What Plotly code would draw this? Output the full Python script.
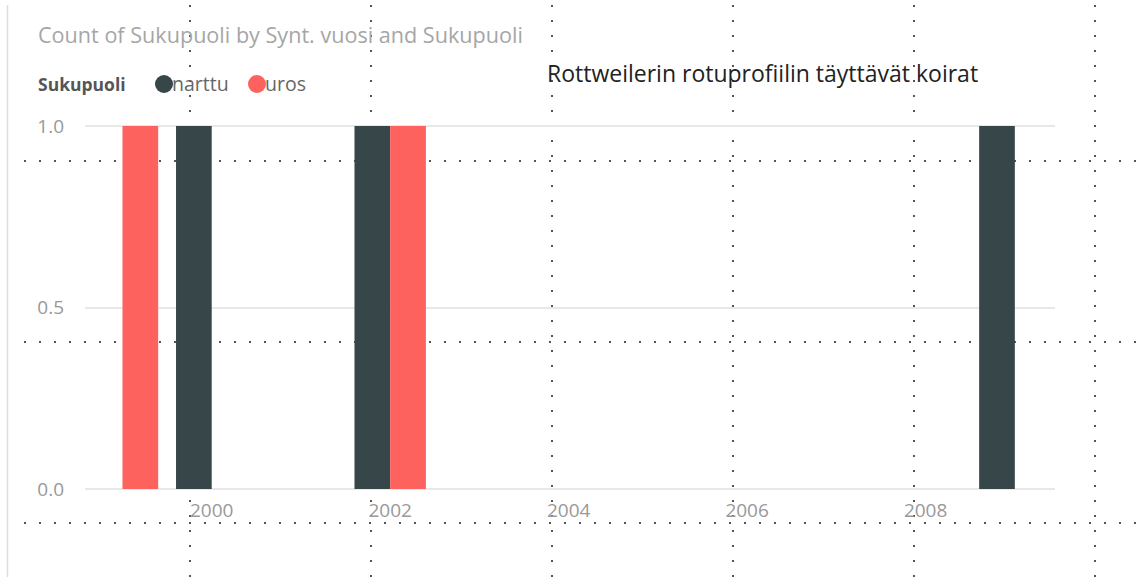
import plotly.graph_objects as go

# Data
years_narttu = [2000, 2002, 2009]
counts_narttu = [1, 1, 1]
years_uros = [1999, 2002]
counts_uros = [1, 1]
x_ticks = [2000, 2002, 2004, 2006, 2008]
y_ticks = [0.0, 0.5, 1.0]

W, H = 1144, 577
L, R, T, B = 85, 89, 125, 87

fig = go.Figure()
fig.add_trace(go.Bar(x=years_narttu, y=counts_narttu, name="narttu",
                     marker=dict(color="#374649", line=dict(width=0))))
fig.add_trace(go.Bar(x=years_uros, y=counts_uros, name="uros",
                     marker=dict(color="#FD625E", line=dict(width=0))))

font_family = "Segoe UI, Open Sans, Noto Sans, sans-serif"

fig.update_layout(
    width=W, height=H,
    margin=dict(l=L, r=R, t=T, b=B),
    paper_bgcolor="white", plot_bgcolor="white",
    barmode="group", bargap=0.2, bargroupgap=0,
    showlegend=False,
    font=dict(family=font_family, color="#999999", size=19),
    xaxis=dict(range=[1998.58, 2009.45], tickvals=x_ticks,
               ticktext=[str(v) for v in x_ticks],
               showgrid=False, zeroline=False, showline=False,
               ticks="", ticklabelstandoff=7,
               tickfont=dict(size=19, color="#999999")),
    yaxis=dict(range=[-0.003, 1.003], tickvals=y_ticks,
               ticktext=["0.0", "0.5", "1.0"],
               showgrid=True, gridcolor="#E8E8E8", gridwidth=1.5,
               zeroline=False, showline=False, ticks="",
               ticklabelstandoff=20,
               tickfont=dict(size=19, color="#999999")),
)

def px_x(p):
    return (p - L) / (W - L - R)

def px_y(p):
    return 1 - (p - T) / (H - T - B)

# Title
fig.add_annotation(text="Count of Sukupuoli by Synt. vuosi and Sukupuoli",
                   xref="paper", yref="paper", xanchor="left", yanchor="middle",
                   x=px_x(36), y=px_y(34), showarrow=False,
                   font=dict(size=21.6, color="#A6A6A6", family=font_family))
# Legend (manual)
ly = px_y(84)
fig.add_annotation(text="<b>Sukupuoli</b>", xref="paper", yref="paper",
                   xanchor="left", yanchor="middle",
                   x=px_x(36), y=ly, showarrow=False,
                   font=dict(size=17.5, color="#555555", family=font_family))
for name, color, cx, tx in [("narttu", "#374649", 164, 170), ("uros", "#FD625E", 257, 263)]:
    fig.add_shape(type="circle", xref="paper", yref="paper",
                  x0=px_x(cx - 9), x1=px_x(cx + 9),
                  y0=px_y(84 + 9), y1=px_y(84 - 9),
                  fillcolor=color, line=dict(width=0))
    fig.add_annotation(text=name, xref="paper", yref="paper", xanchor="left",
                       yanchor="middle", x=px_x(tx), y=ly,
                       showarrow=False,
                       font=dict(size=19.5, color="#666666", family=font_family))

# Overlay caption
fig.add_annotation(text="Rottweilerin rotuprofiilin täyttävät koirat",
                   xref="paper", yref="paper", xanchor="left", yanchor="middle",
                   x=px_x(545), y=px_y(73), showarrow=False,
                   font=dict(size=23, color="#222222", family=font_family))

# Left border of the visual
fig.add_shape(type="line", xref="paper", yref="paper",
              x0=px_x(7.5), x1=px_x(7.5), y0=px_y(H), y1=px_y(5),
              line=dict(color="#DDDDDD", width=1.5))

# Dotted overlay grid
for vx in [190, 371, 552, 733, 914, 1095]:
    fig.add_shape(type="line", xref="paper", yref="paper",
                  x0=px_x(vx), x1=px_x(vx), y0=px_y(H), y1=px_y(0),
                  line=dict(color="#555555", width=2, dash="2px,13px"), layer="below")
for hy in [161, 342, 523]:
    fig.add_shape(type="line", xref="paper", yref="paper",
                  x0=px_x(24), x1=px_x(W), y0=px_y(hy), y1=px_y(hy),
                  line=dict(color="#555555", width=2, dash="2px,13px"), layer="below")

fig.write_html("out.html", config={"displayModeBar": False},
               post_script="document.body.style.margin='0';document.body.style.overflow='hidden';")
